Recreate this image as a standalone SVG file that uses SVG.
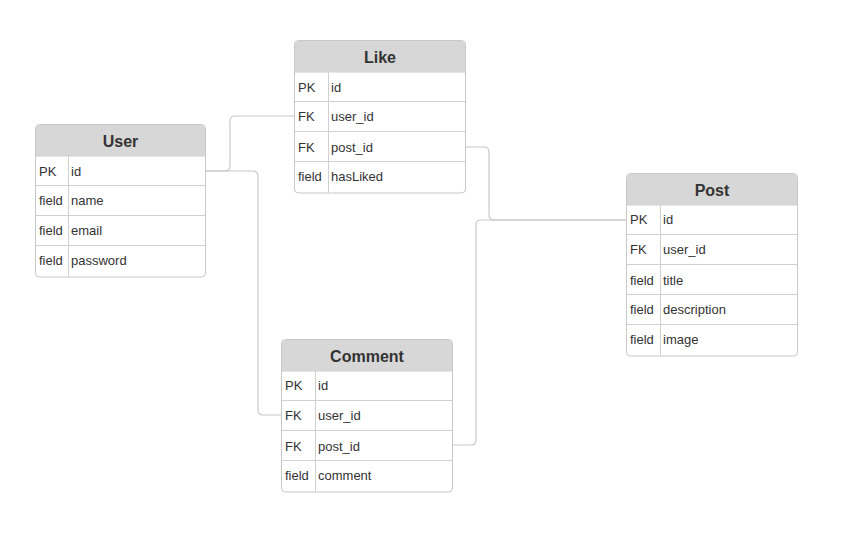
<svg xmlns="http://www.w3.org/2000/svg" width="852" height="556" viewBox="0 0 852 556">
<style>
.box{fill:#fff;stroke:#c8c8c8;stroke-width:1}
.hdr{fill:#d7d7d7}
.ln{stroke:#d0d0d0;stroke-width:1;fill:none}
.title{font-family:"Liberation Sans",Arial,sans-serif;font-size:16px;font-weight:bold;fill:#333;text-anchor:middle}
.t{font-family:"Liberation Sans",Arial,sans-serif;font-size:13px;fill:#333}
.conn{fill:none;stroke:#c8c8c8;stroke-width:1.2}
</style>
<rect width="852" height="556" fill="#fff"/>
<g id="connectors">
<path class="conn" d="M205.5,171 H225 Q230,171 230,166 V121 Q230,116 235,116 H294.5"/>
<path class="conn" d="M205.5,171 H253 Q258,171 258,176 V410 Q258,415 263,415 H281.5"/>
<path class="conn" d="M465.5,147 H484 Q489,147 489,152 V215 Q489,220 494,220 H626.5"/>
<path class="conn" d="M452.5,445 H471 Q476,445 476,440 V225 Q476,220 481,220 H626.5"/>
</g>
<g id="user">
<rect class="box" x="35.5" y="124.5" width="170" height="152.5" rx="4"/>
<path class="hdr" d="M39.5,125 H201.5 Q205,125 205,128.5 V156 H36 V128.5 Q36,125 39.5,125 Z"/>
<path class="ln" d="M35.5,156 H205.5 M35.5,185.5 H205.5 M35.5,215.5 H205.5 M35.5,245.5 H205.5 M68.5,156 V277"/>
<text class="title" x="120.5" y="147">User</text>
<text class="t" x="39" y="176">PK</text><text class="t" x="71" y="176">id</text>
<text class="t" x="39" y="205">field</text><text class="t" x="71" y="205">name</text>
<text class="t" x="39" y="235">field</text><text class="t" x="71" y="235">email</text>
<text class="t" x="39" y="265">field</text><text class="t" x="71" y="265">password</text>
</g>
<g id="like">
<rect class="box" x="294.5" y="40.5" width="171" height="152.5" rx="4"/>
<path class="hdr" d="M298.5,41 H461.5 Q465,41 465,44.5 V72 H295 V44.5 Q295,41 298.5,41 Z"/>
<path class="ln" d="M294.5,72 H465.5 M294.5,101.5 H465.5 M294.5,131.5 H465.5 M294.5,161.5 H465.5 M328.5,72 V193"/>
<text class="title" x="380" y="63">Like</text>
<text class="t" x="298" y="92">PK</text><text class="t" x="331" y="92">id</text>
<text class="t" x="298" y="121">FK</text><text class="t" x="331" y="121">user_id</text>
<text class="t" x="298" y="152">FK</text><text class="t" x="331" y="152">post_id</text>
<text class="t" x="298" y="181">field</text><text class="t" x="331" y="181">hasLiked</text>
</g>
<g id="comment">
<rect class="box" x="281.5" y="339.5" width="171" height="152.5" rx="4"/>
<path class="hdr" d="M285.5,340 H448.5 Q452,340 452,343.5 V371 H282 V343.5 Q282,340 285.5,340 Z"/>
<path class="ln" d="M281.5,371 H452.5 M281.5,400.5 H452.5 M281.5,430.5 H452.5 M281.5,460.5 H452.5 M315.5,371 V492"/>
<text class="title" x="367" y="362">Comment</text>
<text class="t" x="285" y="390">PK</text><text class="t" x="318" y="390">id</text>
<text class="t" x="285" y="420">FK</text><text class="t" x="318" y="420">user_id</text>
<text class="t" x="285" y="451">FK</text><text class="t" x="318" y="451">post_id</text>
<text class="t" x="285" y="480">field</text><text class="t" x="318" y="480">comment</text>
</g>
<g id="post">
<rect class="box" x="626.5" y="173.5" width="171" height="182.5" rx="4"/>
<path class="hdr" d="M630.5,174 H793.5 Q797,174 797,177.5 V205 H627 V177.5 Q627,174 630.5,174 Z"/>
<path class="ln" d="M626.5,205 H797.5 M626.5,234.5 H797.5 M626.5,264.5 H797.5 M626.5,294.5 H797.5 M626.5,324.5 H797.5 M660.5,205 V356"/>
<text class="title" x="712" y="196">Post</text>
<text class="t" x="630" y="224">PK</text><text class="t" x="663" y="224">id</text>
<text class="t" x="630" y="254">FK</text><text class="t" x="663" y="254">user_id</text>
<text class="t" x="630" y="285">field</text><text class="t" x="663" y="285">title</text>
<text class="t" x="630" y="314">field</text><text class="t" x="663" y="314">description</text>
<text class="t" x="630" y="344">field</text><text class="t" x="663" y="344">image</text>
</g>
</svg>
